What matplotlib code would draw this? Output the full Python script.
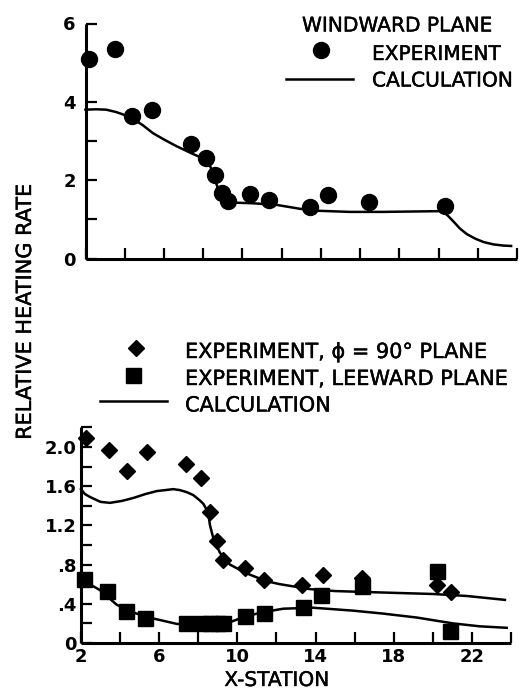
import matplotlib
matplotlib.use("Agg")
import matplotlib.pyplot as plt
import matplotlib.patheffects as pe
from matplotlib.lines import Line2D
from matplotlib.ticker import FixedLocator, FixedFormatter

# ---- windward plane (upper panel) ----
wind_exp_x = [2.17, 3.48, 4.38, 5.37, 7.36, 8.16, 8.60, 8.94, 9.28, 10.40, 11.35, 13.43, 14.38, 16.44, 20.33]
wind_exp_y = [5.09, 5.36, 3.63, 3.78, 2.93, 2.57, 2.13, 1.68, 1.46, 1.65, 1.50, 1.32, 1.61, 1.43, 1.33]

wind_calc_x = [2.0, 2.54, 3.05, 3.56, 4.07, 4.38, 4.93, 5.44, 6.03, 6.63, 7.56, 7.99, 8.33, 8.50,
               8.75, 9.01, 9.35, 10.54, 11.73, 12.92, 13.77, 15.47, 17.17, 20.23, 20.5, 20.75,
               21.1, 21.45, 21.9, 22.3, 22.8, 23.3, 23.7]
wind_calc_y = [3.80, 3.81, 3.80, 3.74, 3.65, 3.58, 3.40, 3.20, 3.03, 2.87, 2.65, 2.56, 2.39, 2.17,
               1.79, 1.54, 1.43, 1.41, 1.37, 1.27, 1.22, 1.19, 1.19, 1.21, 1.08, 0.95,
               0.76, 0.62, 0.50, 0.42, 0.36, 0.33, 0.32]

# ---- phi = 90 deg and leeward planes (lower panel) ----
phi90_exp_x = [2.26, 3.41, 4.37, 5.36, 7.37, 8.12, 8.60, 8.97, 9.25, 10.39, 11.36, 13.29, 14.36, 16.40, 20.19, 20.91]
phi90_exp_y = [2.09, 1.97, 1.76, 1.95, 1.83, 1.68, 1.34, 1.04, 0.85, 0.77, 0.64, 0.59, 0.69, 0.66, 0.59, 0.52]

lee_exp_x = [2.15, 3.35, 4.30, 5.29, 7.37, 8.12, 8.60, 8.97, 9.25, 10.39, 11.36, 13.34, 14.26, 16.40, 20.22, 20.87]
lee_exp_y = [0.65, 0.53, 0.33, 0.26, 0.20, 0.20, 0.20, 0.20, 0.20, 0.28, 0.31, 0.37, 0.49, 0.58, 0.73, 0.12]

phi90_calc_x = [2.0, 2.2, 2.46, 3.0, 3.48, 4.1, 4.68, 5.3, 5.87, 6.3, 6.72, 7.06, 7.4, 7.74, 8.05,
                8.26, 8.43, 8.51, 8.60, 8.77, 9.11, 9.62, 10.48, 11.5, 12.18, 13.71, 15.0,
                16.61, 18.3, 20.02, 21.73, 23.69]
phi90_calc_y = [1.57, 1.52, 1.49, 1.44, 1.43, 1.45, 1.48, 1.52, 1.55, 1.56, 1.57, 1.56, 1.54, 1.51, 1.46,
                1.42, 1.36, 1.32, 1.20, 1.07, 0.92, 0.80, 0.71, 0.63, 0.60, 0.55, 0.53,
                0.52, 0.51, 0.50, 0.48, 0.44]

lee_calc_x = [2.0, 2.97, 3.83, 4.68, 5.70, 6.90, 8.09, 9.45, 10.13, 11.16, 12.35, 13.88,
              15.93, 17.46, 19.17, 21.04, 22.41, 23.78]
lee_calc_y = [0.65, 0.54, 0.39, 0.31, 0.25, 0.195, 0.18, 0.20, 0.25, 0.31, 0.35, 0.36,
              0.33, 0.30, 0.26, 0.20, 0.17, 0.155]

# ---- tick positions and labels ----
x_ticks = [2, 4, 6, 8, 10, 12, 14, 16, 18, 20, 22, 24]
x_label_ticks = [2, 6, 10, 14, 18, 22]
x_tick_labels = ["2", "6", "10", "14", "18", "22"]
top_y_ticks = [0, 2, 4, 6]
top_y_tick_labels = ["0", "2", "4", "6"]
top_y_minor = [1, 3, 5]
bot_y_ticks = [0, 0.4, 0.8, 1.2, 1.6, 2.0]
bot_y_tick_labels = ["0", ".4", ".8", "1.2", "1.6", "2.0"]
bot_y_minor = [0.2, 0.6, 1.0, 1.4, 1.8, 2.2]

plt.rcParams["font.family"] = ["DejaVu Sans"]

W, H = 523, 690
fig = plt.figure(figsize=(W / 100, H / 100), dpi=100)


def fx(x):
    return x / W


def fy(y):
    return 1 - y / H


SPINE_W = 2.2
LINE_W = 1.8
HEAVY = [pe.withStroke(linewidth=0.3, foreground="black")]


def style_axes(ax, pad_x, pad_y):
    for s in ("top", "right"):
        ax.spines[s].set_visible(False)
    for s in ("left", "bottom"):
        ax.spines[s].set_linewidth(SPINE_W)
        ax.spines[s].set_capstyle("butt")
    ax.tick_params(which="both", direction="in", length=8, width=1.6)
    ax.tick_params(axis="y", which="both", pad=pad_y)
    ax.tick_params(axis="x", which="both", pad=pad_x)
    for lab in ax.get_xticklabels() + ax.get_yticklabels():
        lab.set_fontsize(13)
        lab.set_fontweight("bold")


# upper panel
ax1 = fig.add_axes([fx(85.5), fy(258.5), (517 - 85.5) / W, 235 / H])
ax1.set_xlim(2, 24)
ax1.set_ylim(0, 6)
ax1.xaxis.set_major_locator(FixedLocator(x_ticks))
ax1.xaxis.set_major_formatter(FixedFormatter([""] * len(x_ticks)))
ax1.yaxis.set_major_locator(FixedLocator(top_y_ticks))
ax1.yaxis.set_major_formatter(FixedFormatter(top_y_tick_labels))
ax1.yaxis.set_minor_locator(FixedLocator(top_y_minor))
ax1.plot(wind_calc_x, wind_calc_y, color="black", lw=LINE_W, solid_joinstyle="round", clip_on=False)
ax1.plot(wind_exp_x, wind_exp_y, "o", color="black", ms=11.5, clip_on=False)
style_axes(ax1, pad_x=8, pad_y=7)

# lower panel
ax2 = fig.add_axes([fx(81), fy(643), 430 / W, 2.2 * 98 / H])
ax2.set_xlim(2, 24)
ax2.set_ylim(0, 2.2)
ax2.xaxis.set_major_locator(FixedLocator(x_label_ticks))
ax2.xaxis.set_major_formatter(FixedFormatter(x_tick_labels))
ax2.xaxis.set_minor_locator(FixedLocator([t for t in x_ticks if t not in x_label_ticks]))
ax2.yaxis.set_major_locator(FixedLocator(bot_y_ticks))
ax2.yaxis.set_major_formatter(FixedFormatter(bot_y_tick_labels))
ax2.yaxis.set_minor_locator(FixedLocator(bot_y_minor))
ax2.plot(phi90_calc_x, phi90_calc_y, color="black", lw=LINE_W, solid_joinstyle="round", clip_on=False)
ax2.plot(lee_calc_x, lee_calc_y, color="black", lw=LINE_W, solid_joinstyle="round", clip_on=False)
ax2.plot(lee_exp_x, lee_exp_y, "s", color="black", ms=10.8, clip_on=False)
ax2.plot(phi90_exp_x, phi90_exp_y, "D", color="black", ms=7.8, clip_on=False)
style_axes(ax2, pad_x=3.5, pad_y=3)

# legends, laid out by hand
def legend_marker(x, y, marker, ms):
    fig.add_artist(Line2D([fx(x)], [fy(y)], marker=marker, ms=ms, color="black",
                          linestyle="none", transform=fig.transFigure))


def legend_line(x0, x1, y):
    fig.add_artist(Line2D([fx(x0), fx(x1)], [fy(y), fy(y)], color="black", lw=LINE_W,
                          transform=fig.transFigure))


def label(x, y, s, size=14.5):
    fig.text(fx(x), fy(y), s, fontsize=size, color="black", ha="left", va="baseline",
             path_effects=HEAVY)


label(302, 31.5, "WINDWARD PLANE")
legend_marker(321, 50, "o", 11.5)
label(372, 60, "EXPERIMENT")
legend_line(286, 353, 79)
label(372, 86.5, "CALCULATION")

legend_marker(136, 348, "D", 7.8)
label(185, 358, "EXPERIMENT, \u03d5 = 90\u00b0 PLANE", 15)
legend_marker(133, 375, "s", 10.8)
label(185, 385, "EXPERIMENT, LEEWARD PLANE", 15)
legend_line(100, 167, 401)
label(185, 411.5, "CALCULATION", 15)

fig.text(fx(277), fy(686), "X-STATION", fontsize=14.5, ha="center", va="baseline",
         path_effects=HEAVY)
fig.text(fx(25), fy(312), "RELATIVE HEATING RATE", fontsize=15, rotation=90,
         ha="center", va="center", path_effects=HEAVY)

fig.savefig("out.png", dpi=100)
